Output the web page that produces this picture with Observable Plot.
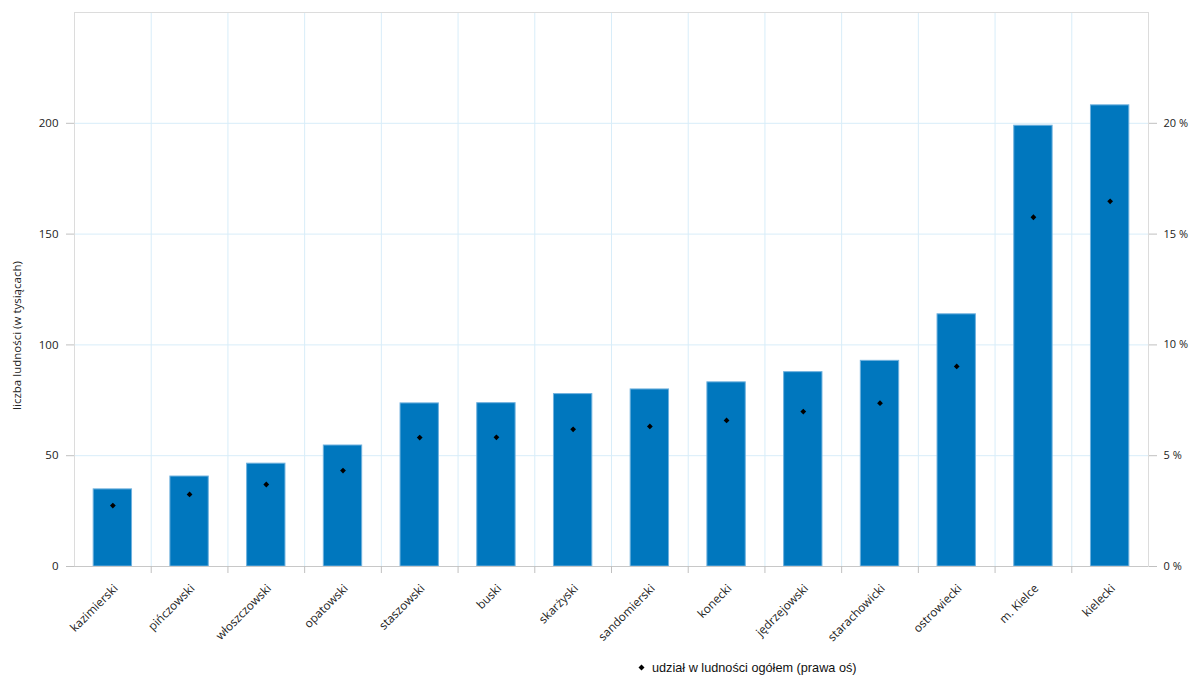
<!DOCTYPE html>
<html><head><meta charset="utf-8">
<script src="https://cdn.jsdelivr.net/npm/d3@7"></script>
<script src="https://cdn.jsdelivr.net/npm/@observablehq/plot@0.6"></script>
<style>
body{margin:0;background:#fff;font-family:"Open Sans",sans-serif;}
#chart svg{display:block;}
#legend{height:20px;line-height:20px;font-family:"Liberation Sans",Arial,sans-serif;font-size:12.7px;color:#111;padding-left:637px;white-space:nowrap;}
#legend svg{vertical-align:middle;margin-right:6px;position:relative;top:-1px;}
</style>
</head><body>
<div id="chart"></div>
<div id="legend"><svg width="9" height="9" viewBox="-4.5 -4.5 9 9"><path d="M0,-3L3,0L0,3L-3,0Z" fill="#000"/></svg>udział w ludności ogółem (prawa oś)</div>
<script>
const categories = ["kazimierski","pińczowski","włoszczowski","opatowski","staszowski","buski","skarżyski","sandomierski","konecki","jędrzejowski","starachowicki","ostrowiecki","m. Kielce","kielecki"];
const population = [34.8, 40.6, 46.4, 54.6, 73.6, 73.7, 77.8, 79.9, 83.1, 87.7, 92.8, 113.8, 198.9, 208.1];
const sharePct = [2.75, 3.25, 3.7, 4.33, 5.82, 5.83, 6.19, 6.32, 6.59, 6.99, 7.37, 9.03, 15.76, 16.48];
const leftTicks = [0, 50, 100, 150, 200];
const rightTicks = [0, 5, 10, 15, 20];
const yLabel = "liczba ludności (w tysiącach)";

const data = categories.map((c, i) => ({cat: c, pop: population[i], pct: sharePct[i]}));

const W = 1189, H = 658;
const mL = 74, mR = 41, mT = 12, mB = H - 566;
const step = (W - mL - mR) / categories.length;
const grid = "#d8edf9";

const chart = Plot.plot({
  width: W, height: H,
  marginLeft: mL, marginRight: mR, marginTop: mT, marginBottom: mB,
  style: {fontFamily: "'Open Sans', sans-serif", fontSize: "11.5px", color: "#222", overflow: "visible"},
  x: {type: "band", domain: categories, paddingInner: 0.5, paddingOuter: 0.25, round: false, axis: null},
  y: {domain: [0, 250], axis: null},
  marks: [
    Plot.gridY(leftTicks.slice(1), {stroke: grid, strokeOpacity: 1}),
    Plot.ruleX(categories.slice(0, -1), {x: d => d, dx: step / 2, stroke: grid, strokeOpacity: 1}),
    Plot.frame({stroke: "#dcdcdc"}),
    Plot.barY(data, {x: "cat", y: "pop", fill: "#0077be", stroke: "#6fb1de", strokeWidth: 1}),
    Plot.dot(data, {x: "cat", y: d => d.pct * 10, symbol: "diamond2", r: 2.6, fill: "#000", stroke: "none"}),
    Plot.ruleY([0], {stroke: "#c8c8c8"}),
    Plot.axisY(leftTicks, {anchor: "left", tickSize: 8, tickPadding: 8, stroke: "#c0c0c0", fill: "#222", label: null}),
    Plot.axisY(rightTicks.map(t => t * 10), {anchor: "right", tickSize: 8, tickPadding: 7, stroke: "#c0c0c0", fill: "#222", fontSize: 11, label: null, tickFormat: d => `${d / 10} %`}),
    Plot.axisX(categories.slice(0, -1), {anchor: "bottom", tickSize: 7, dx: step / 2, stroke: "#c0c0c0", fill: "none", label: null}),
    Plot.axisX({anchor: "bottom", tickSize: 0, tickPadding: 20, dx: 3, tickRotate: -45, fill: "#222", fontSize: 11.8, label: null}),
    Plot.text([yLabel], {frameAnchor: "left", text: d => d, textAnchor: "middle", rotate: -90, dx: -57, dy: 46, fill: "#222", fontSize: 11.5})
  ]
});
document.getElementById("chart").appendChild(chart);
</script>
</body></html>
